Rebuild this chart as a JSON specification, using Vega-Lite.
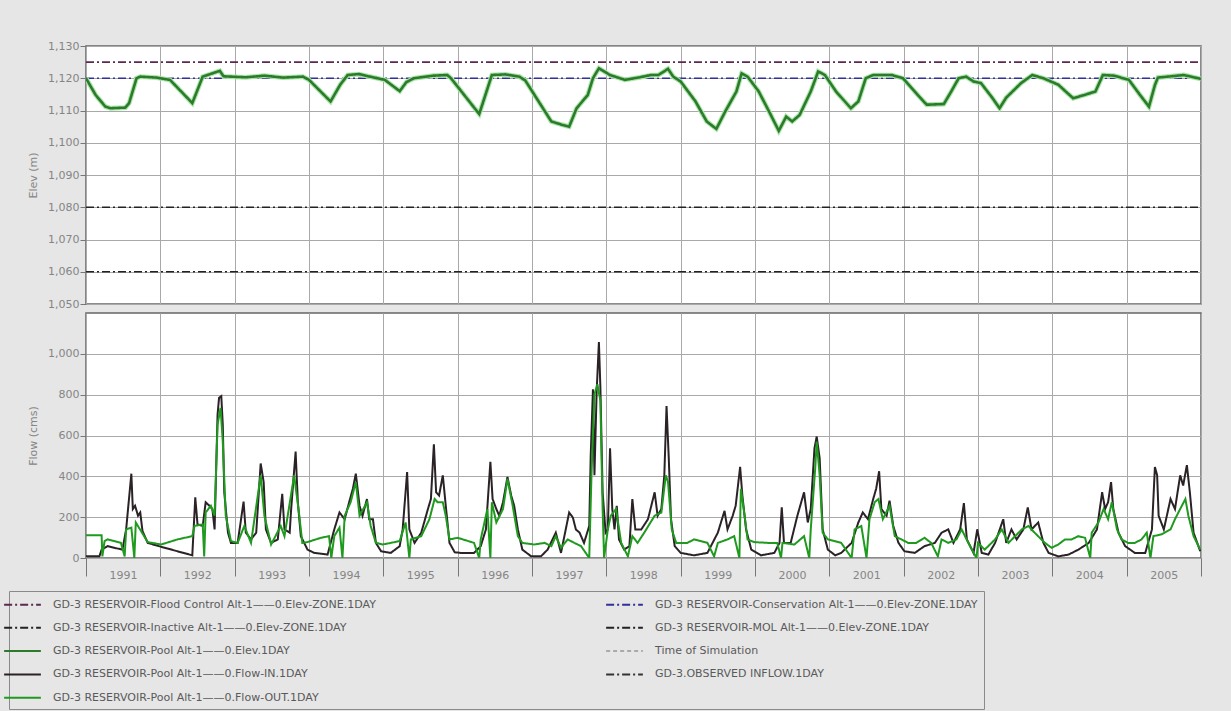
{
  "$schema": "https://vega.github.io/schema/vega-lite/v6.json",
  "background": "#e6e6e6",
  "padding": {"left": 8, "top": 39, "right": 25, "bottom": 2},
  "bounds": "flush",
  "spacing": 9,
  "datasets": {
    "zones": [
      {"t": 1991, "v": 1125, "s": "GD-3 RESERVOIR-Flood Control Alt-1——0.Elev-ZONE.1DAY"},
      {"t": 2006, "v": 1125, "s": "GD-3 RESERVOIR-Flood Control Alt-1——0.Elev-ZONE.1DAY"},
      {"t": 1991, "v": 1120, "s": "GD-3 RESERVOIR-Conservation Alt-1——0.Elev-ZONE.1DAY"},
      {"t": 2006, "v": 1120, "s": "GD-3 RESERVOIR-Conservation Alt-1——0.Elev-ZONE.1DAY"},
      {"t": 1991, "v": 1060, "s": "GD-3 RESERVOIR-Inactive Alt-1——0.Elev-ZONE.1DAY"},
      {"t": 2006, "v": 1060, "s": "GD-3 RESERVOIR-Inactive Alt-1——0.Elev-ZONE.1DAY"},
      {"t": 1991, "v": 1080, "s": "GD-3 RESERVOIR-MOL Alt-1——0.Elev-ZONE.1DAY"},
      {"t": 2006, "v": 1080, "s": "GD-3 RESERVOIR-MOL Alt-1——0.Elev-ZONE.1DAY"}
    ],
    "elev": [
      {"t":1991.00,"v":1120},{"t":1991.13,"v":1114.8},{"t":1991.26,"v":1111.2},{"t":1991.33,"v":1110.7},{"t":1991.53,"v":1110.9},{"t":1991.58,"v":1112.3},{"t":1991.68,"v":1120},{"t":1991.73,"v":1120.5},{"t":1991.95,"v":1120.2},
      {"t":1992.13,"v":1119.5},{"t":1992.43,"v":1112.3},{"t":1992.57,"v":1120.5},{"t":1992.80,"v":1122.3},{"t":1992.85,"v":1120.6},
      {"t":1993.15,"v":1120.3},{"t":1993.40,"v":1120.8},{"t":1993.65,"v":1120.2},{"t":1993.92,"v":1120.5},
      {"t":1994.00,"v":1119.5},{"t":1994.29,"v":1112.8},{"t":1994.42,"v":1118},{"t":1994.52,"v":1121},{"t":1994.67,"v":1121.3},{"t":1994.82,"v":1120.5},
      {"t":1995.02,"v":1119.5},{"t":1995.22,"v":1116},{"t":1995.31,"v":1118.8},{"t":1995.41,"v":1120},{"t":1995.67,"v":1120.8},{"t":1995.86,"v":1121},{"t":1995.91,"v":1120},
      {"t":1996.29,"v":1108.9},{"t":1996.46,"v":1121},{"t":1996.64,"v":1121.2},{"t":1996.83,"v":1120.5},{"t":1996.91,"v":1119.3},
      {"t":1997.26,"v":1106.6},{"t":1997.40,"v":1105.6},{"t":1997.50,"v":1105},{"t":1997.60,"v":1110.7},{"t":1997.75,"v":1114.8},{"t":1997.82,"v":1120},{"t":1997.90,"v":1123.1},{"t":1997.97,"v":1122.1},
      {"t":1998.05,"v":1121},{"t":1998.25,"v":1119.5},{"t":1998.45,"v":1120.3},{"t":1998.60,"v":1121},{"t":1998.70,"v":1121},{"t":1998.83,"v":1122.9},{"t":1998.90,"v":1120.5},
      {"t":1999.00,"v":1119},{"t":1999.20,"v":1112.8},{"t":1999.35,"v":1106.6},{"t":1999.48,"v":1104.3},{"t":1999.60,"v":1109.7},{"t":1999.75,"v":1115.9},{"t":1999.82,"v":1121.5},{"t":1999.90,"v":1120.5},
      {"t":2000.05,"v":1115.9},{"t":2000.20,"v":1109.2},{"t":2000.32,"v":1103.7},{"t":2000.42,"v":1108.1},{"t":2000.50,"v":1106.6},{"t":2000.60,"v":1108.6},{"t":2000.75,"v":1115.9},{"t":2000.85,"v":1122.1},{"t":2000.94,"v":1121},
      {"t":2001.09,"v":1115.9},{"t":2001.29,"v":1110.7},{"t":2001.39,"v":1112.8},{"t":2001.49,"v":1120},{"t":2001.59,"v":1121},{"t":2001.84,"v":1121},{"t":2001.99,"v":1120},
      {"t":2002.19,"v":1114.8},{"t":2002.31,"v":1111.8},{"t":2002.54,"v":1112},{"t":2002.64,"v":1115.9},{"t":2002.74,"v":1120},{"t":2002.84,"v":1120.5},{"t":2002.94,"v":1119},
      {"t":2003.04,"v":1118.5},{"t":2003.19,"v":1114},{"t":2003.29,"v":1110.7},{"t":2003.38,"v":1114},{"t":2003.58,"v":1118.5},{"t":2003.73,"v":1121},{"t":2003.88,"v":1120},
      {"t":2004.08,"v":1118},{"t":2004.28,"v":1113.8},{"t":2004.43,"v":1114.8},{"t":2004.58,"v":1115.9},{"t":2004.68,"v":1121},{"t":2004.83,"v":1120.8},
      {"t":2005.03,"v":1119.5},{"t":2005.18,"v":1114.8},{"t":2005.30,"v":1111.2},{"t":2005.38,"v":1117.9},{"t":2005.42,"v":1120.2},{"t":2005.77,"v":1121},{"t":2005.92,"v":1120.2},{"t":2006.00,"v":1119.8}
    ],
    "inflow": [
      {"t":1991.00,"v":8},{"t":1991.18,"v":8},{"t":1991.21,"v":41},{"t":1991.29,"v":58},{"t":1991.38,"v":50},{"t":1991.49,"v":41},{"t":1991.54,"v":140},{"t":1991.61,"v":413},{"t":1991.63,"v":240},{"t":1991.66,"v":256},{"t":1991.70,"v":207},{"t":1991.73,"v":223},{"t":1991.76,"v":132},{"t":1991.83,"v":74},
      {"t":1992.01,"v":55},{"t":1992.23,"v":33},{"t":1992.43,"v":13},{"t":1992.47,"v":297},{"t":1992.50,"v":165},{"t":1992.57,"v":157},{"t":1992.61,"v":273},{"t":1992.66,"v":256},{"t":1992.70,"v":240},{"t":1992.73,"v":140},{"t":1992.77,"v":703},{"t":1992.79,"v":785},{"t":1992.82,"v":793},{"t":1992.84,"v":653},{"t":1992.86,"v":322},{"t":1992.91,"v":124},{"t":1992.95,"v":74},
      {"t":1993.04,"v":74},{"t":1993.12,"v":276},{"t":1993.15,"v":124},{"t":1993.22,"v":91},{"t":1993.29,"v":124},{"t":1993.35,"v":463},{"t":1993.39,"v":372},{"t":1993.42,"v":140},{"t":1993.49,"v":74},{"t":1993.58,"v":91},{"t":1993.64,"v":314},{"t":1993.67,"v":140},{"t":1993.74,"v":124},{"t":1993.76,"v":240},{"t":1993.82,"v":521},{"t":1993.85,"v":273},{"t":1993.89,"v":107},{"t":1993.98,"v":41},
      {"t":1994.07,"v":25},{"t":1994.25,"v":17},{"t":1994.34,"v":140},{"t":1994.41,"v":223},{"t":1994.48,"v":190},{"t":1994.54,"v":273},{"t":1994.59,"v":339},{"t":1994.63,"v":413},{"t":1994.68,"v":256},{"t":1994.72,"v":207},{"t":1994.78,"v":289},{"t":1994.81,"v":190},{"t":1994.86,"v":190},{"t":1994.90,"v":74},{"t":1994.97,"v":33},
      {"t":1995.10,"v":25},{"t":1995.22,"v":58},{"t":1995.26,"v":140},{"t":1995.32,"v":421},{"t":1995.35,"v":140},{"t":1995.42,"v":74},{"t":1995.51,"v":124},{"t":1995.60,"v":240},{"t":1995.64,"v":289},{"t":1995.68,"v":557},{"t":1995.71,"v":322},{"t":1995.75,"v":306},{"t":1995.80,"v":405},{"t":1995.84,"v":256},{"t":1995.89,"v":74},{"t":1995.96,"v":28},
      {"t":1996.04,"v":25},{"t":1996.22,"v":25},{"t":1996.31,"v":58},{"t":1996.38,"v":140},{"t":1996.44,"v":471},{"t":1996.47,"v":289},{"t":1996.52,"v":240},{"t":1996.56,"v":207},{"t":1996.61,"v":273},{"t":1996.67,"v":397},{"t":1996.72,"v":306},{"t":1996.76,"v":256},{"t":1996.81,"v":140},{"t":1996.87,"v":41},{"t":1996.99,"v":8},
      {"t":1997.12,"v":8},{"t":1997.21,"v":41},{"t":1997.32,"v":124},{"t":1997.39,"v":25},{"t":1997.50,"v":223},{"t":1997.55,"v":198},{"t":1997.59,"v":140},{"t":1997.64,"v":124},{"t":1997.70,"v":74},{"t":1997.77,"v":157},{"t":1997.79,"v":504},{"t":1997.82,"v":826},{"t":1997.84,"v":405},{"t":1997.87,"v":818},{"t":1997.90,"v":1058},{"t":1997.92,"v":835},{"t":1997.95,"v":322},{"t":1997.99,"v":124},
      {"t":1998.02,"v":140},{"t":1998.05,"v":537},{"t":1998.08,"v":240},{"t":1998.11,"v":140},{"t":1998.14,"v":256},{"t":1998.17,"v":91},{"t":1998.24,"v":41},{"t":1998.31,"v":58},{"t":1998.35,"v":289},{"t":1998.39,"v":140},{"t":1998.47,"v":140},{"t":1998.56,"v":190},{"t":1998.65,"v":322},{"t":1998.69,"v":207},{"t":1998.74,"v":240},{"t":1998.78,"v":405},{"t":1998.81,"v":744},{"t":1998.84,"v":488},{"t":1998.87,"v":190},{"t":1998.92,"v":58},
      {"t":1999.00,"v":25},{"t":1999.18,"v":13},{"t":1999.36,"v":25},{"t":1999.50,"v":124},{"t":1999.59,"v":231},{"t":1999.63,"v":140},{"t":1999.70,"v":207},{"t":1999.74,"v":256},{"t":1999.80,"v":446},{"t":1999.83,"v":306},{"t":1999.88,"v":140},{"t":1999.95,"v":41},
      {"t":2000.08,"v":13},{"t":2000.26,"v":25},{"t":2000.33,"v":74},{"t":2000.36,"v":248},{"t":2000.39,"v":74},{"t":2000.48,"v":74},{"t":2000.57,"v":207},{"t":2000.66,"v":322},{"t":2000.71,"v":174},{"t":2000.75,"v":240},{"t":2000.80,"v":537},{"t":2000.83,"v":595},{"t":2000.87,"v":488},{"t":2000.91,"v":140},{"t":2000.98,"v":41},
      {"t":2001.08,"v":13},{"t":2001.16,"v":25},{"t":2001.30,"v":74},{"t":2001.39,"v":174},{"t":2001.45,"v":223},{"t":2001.52,"v":190},{"t":2001.59,"v":289},{"t":2001.63,"v":339},{"t":2001.67,"v":425},{"t":2001.70,"v":240},{"t":2001.77,"v":207},{"t":2001.81,"v":281},{"t":2001.86,"v":157},{"t":2001.93,"v":74},
      {"t":2002.01,"v":33},{"t":2002.15,"v":25},{"t":2002.28,"v":58},{"t":2002.42,"v":74},{"t":2002.51,"v":124},{"t":2002.60,"v":140},{"t":2002.67,"v":74},{"t":2002.76,"v":140},{"t":2002.81,"v":269},{"t":2002.85,"v":91},{"t":2002.94,"v":25},{"t":2002.99,"v":140},
      {"t":2003.05,"v":25},{"t":2003.14,"v":17},{"t":2003.23,"v":74},{"t":2003.34,"v":190},{"t":2003.38,"v":74},{"t":2003.45,"v":140},{"t":2003.52,"v":91},{"t":2003.61,"v":140},{"t":2003.67,"v":248},{"t":2003.72,"v":140},{"t":2003.81,"v":174},{"t":2003.88,"v":74},{"t":2003.95,"v":25},
      {"t":2004.08,"v":8},{"t":2004.22,"v":17},{"t":2004.35,"v":41},{"t":2004.49,"v":74},{"t":2004.60,"v":140},{"t":2004.67,"v":322},{"t":2004.71,"v":240},{"t":2004.75,"v":273},{"t":2004.79,"v":372},{"t":2004.82,"v":240},{"t":2004.89,"v":124},{"t":2004.98,"v":58},
      {"t":2005.11,"v":25},{"t":2005.25,"v":25},{"t":2005.34,"v":140},{"t":2005.38,"v":446},{"t":2005.41,"v":405},{"t":2005.43,"v":207},{"t":2005.50,"v":140},{"t":2005.59,"v":289},{"t":2005.65,"v":240},{"t":2005.72,"v":405},{"t":2005.76,"v":355},{"t":2005.81,"v":455},{"t":2005.85,"v":322},{"t":2005.90,"v":124},{"t":2005.99,"v":33}
    ],
    "outflow": [
      {"t":1991.00,"v":111},{"t":1991.21,"v":111},{"t":1991.22,"v":8},{"t":1991.25,"v":83},{"t":1991.29,"v":91},{"t":1991.38,"v":83},{"t":1991.47,"v":74},{"t":1991.52,"v":8},{"t":1991.54,"v":140},{"t":1991.61,"v":149},{"t":1991.65,"v":0},{"t":1991.67,"v":174},{"t":1991.74,"v":132},{"t":1991.83,"v":78},
      {"t":1992.01,"v":66},{"t":1992.23,"v":91},{"t":1992.43,"v":107},{"t":1992.46,"v":157},{"t":1992.57,"v":165},{"t":1992.59,"v":8},{"t":1992.61,"v":223},{"t":1992.68,"v":256},{"t":1992.73,"v":207},{"t":1992.77,"v":653},{"t":1992.81,"v":735},{"t":1992.84,"v":570},{"t":1992.88,"v":207},{"t":1992.95,"v":83},
      {"t":1993.04,"v":74},{"t":1993.13,"v":157},{"t":1993.22,"v":74},{"t":1993.35,"v":405},{"t":1993.40,"v":207},{"t":1993.49,"v":66},{"t":1993.62,"v":157},{"t":1993.67,"v":107},{"t":1993.80,"v":405},{"t":1993.87,"v":207},{"t":1993.91,"v":74},{"t":1993.98,"v":78},
      {"t":1994.16,"v":99},{"t":1994.27,"v":107},{"t":1994.30,"v":0},{"t":1994.34,"v":107},{"t":1994.41,"v":149},{"t":1994.45,"v":0},{"t":1994.48,"v":207},{"t":1994.56,"v":273},{"t":1994.63,"v":372},{"t":1994.68,"v":207},{"t":1994.78,"v":273},{"t":1994.83,"v":157},{"t":1994.90,"v":74},{"t":1994.99,"v":66},
      {"t":1995.10,"v":74},{"t":1995.22,"v":83},{"t":1995.30,"v":174},{"t":1995.35,"v":0},{"t":1995.37,"v":91},{"t":1995.51,"v":107},{"t":1995.62,"v":190},{"t":1995.69,"v":289},{"t":1995.73,"v":273},{"t":1995.80,"v":273},{"t":1995.84,"v":207},{"t":1995.89,"v":91},{"t":1996.00,"v":99},
      {"t":1996.22,"v":74},{"t":1996.29,"v":0},{"t":1996.31,"v":91},{"t":1996.40,"v":240},{"t":1996.44,"v":0},{"t":1996.46,"v":273},{"t":1996.52,"v":174},{"t":1996.61,"v":240},{"t":1996.67,"v":388},{"t":1996.74,"v":256},{"t":1996.81,"v":107},{"t":1996.87,"v":74},
      {"t":1997.03,"v":66},{"t":1997.17,"v":74},{"t":1997.26,"v":58},{"t":1997.32,"v":107},{"t":1997.39,"v":50},{"t":1997.48,"v":91},{"t":1997.57,"v":74},{"t":1997.66,"v":58},{"t":1997.77,"v":0},{"t":1997.80,"v":405},{"t":1997.84,"v":802},{"t":1997.88,"v":851},{"t":1997.92,"v":769},{"t":1997.95,"v":240},{"t":1997.97,"v":0},
      {"t":1998.02,"v":140},{"t":1998.06,"v":207},{"t":1998.13,"v":240},{"t":1998.20,"v":74},{"t":1998.29,"v":8},{"t":1998.35,"v":107},{"t":1998.42,"v":74},{"t":1998.51,"v":124},{"t":1998.65,"v":207},{"t":1998.74,"v":223},{"t":1998.80,"v":405},{"t":1998.83,"v":372},{"t":1998.88,"v":140},{"t":1998.94,"v":74},
      {"t":1999.09,"v":74},{"t":1999.18,"v":91},{"t":1999.36,"v":74},{"t":1999.45,"v":8},{"t":1999.50,"v":74},{"t":1999.63,"v":91},{"t":1999.72,"v":107},{"t":1999.79,"v":0},{"t":1999.81,"v":339},{"t":1999.86,"v":207},{"t":1999.90,"v":91},{"t":1999.99,"v":78},
      {"t":2000.17,"v":74},{"t":2000.30,"v":74},{"t":2000.35,"v":0},{"t":2000.37,"v":74},{"t":2000.53,"v":66},{"t":2000.66,"v":107},{"t":2000.73,"v":0},{"t":2000.75,"v":140},{"t":2000.81,"v":438},{"t":2000.83,"v":570},{"t":2000.87,"v":405},{"t":2000.91,"v":124},{"t":2000.98,"v":91},
      {"t":2001.16,"v":74},{"t":2001.30,"v":0},{"t":2001.34,"v":140},{"t":2001.43,"v":157},{"t":2001.50,"v":0},{"t":2001.54,"v":190},{"t":2001.61,"v":273},{"t":2001.66,"v":289},{"t":2001.72,"v":190},{"t":2001.81,"v":256},{"t":2001.88,"v":107},{"t":2001.97,"v":91},
      {"t":2002.06,"v":74},{"t":2002.17,"v":74},{"t":2002.28,"v":99},{"t":2002.37,"v":74},{"t":2002.46,"v":8},{"t":2002.51,"v":91},{"t":2002.60,"v":74},{"t":2002.71,"v":91},{"t":2002.78,"v":140},{"t":2002.87,"v":74},{"t":2002.98,"v":0},
      {"t":2003.00,"v":74},{"t":2003.09,"v":41},{"t":2003.23,"v":91},{"t":2003.32,"v":140},{"t":2003.41,"v":74},{"t":2003.50,"v":107},{"t":2003.59,"v":140},{"t":2003.68,"v":157},{"t":2003.74,"v":132},{"t":2003.83,"v":99},{"t":2003.90,"v":74},{"t":2003.99,"v":50},
      {"t":2004.08,"v":66},{"t":2004.17,"v":91},{"t":2004.26,"v":91},{"t":2004.35,"v":107},{"t":2004.44,"v":99},{"t":2004.51,"v":0},{"t":2004.53,"v":124},{"t":2004.62,"v":174},{"t":2004.69,"v":240},{"t":2004.75,"v":190},{"t":2004.80,"v":273},{"t":2004.87,"v":140},{"t":2004.93,"v":91},
      {"t":2005.02,"v":74},{"t":2005.11,"v":74},{"t":2005.20,"v":91},{"t":2005.27,"v":124},{"t":2005.32,"v":0},{"t":2005.36,"v":107},{"t":2005.47,"v":116},{"t":2005.59,"v":140},{"t":2005.65,"v":190},{"t":2005.72,"v":240},{"t":2005.79,"v":289},{"t":2005.83,"v":207},{"t":2005.90,"v":107},{"t":2005.99,"v":41}
    ]
  },
  "vconcat": [
    {
      "width": 1115,
      "height": 258,
      "encoding": {
        "x": {"field": "t", "type": "quantitative", "scale": {"domain": [1991, 2006], "nice": false, "zero": false},
              "axis": {"values": [1991,1992,1993,1994,1995,1996,1997,1998,1999,2000,2001,2002,2003,2004,2005,2006], "labels": false, "ticks": false, "domain": false, "grid": true, "title": null}},
        "y": {"field": "v", "type": "quantitative", "scale": {"domain": [1050, 1130], "nice": false, "zero": false},
              "axis": {"values": [1050,1060,1070,1080,1090,1100,1110,1120,1130], "format": ",d", "title": "Elev (m)", "grid": true, "tickSize": 6, "labelPadding": 1, "titlePadding": 9, "labelOverlap": false}}
      },
      "layer": [
        {
          "data": {"name": "zones"},
          "mark": {"type": "line", "strokeWidth": 1.6, "clip": true},
          "encoding": {
            "color": {"field": "s", "type": "nominal",
              "scale": {"domain": ["GD-3 RESERVOIR-Flood Control Alt-1——0.Elev-ZONE.1DAY","GD-3 RESERVOIR-Inactive Alt-1——0.Elev-ZONE.1DAY","GD-3 RESERVOIR-Pool Alt-1——0.Elev.1DAY","GD-3 RESERVOIR-Pool Alt-1——0.Flow-IN.1DAY","GD-3 RESERVOIR-Pool Alt-1——0.Flow-OUT.1DAY","GD-3 RESERVOIR-Conservation Alt-1——0.Elev-ZONE.1DAY","GD-3 RESERVOIR-MOL Alt-1——0.Elev-ZONE.1DAY","Time of Simulation","GD-3.OBSERVED INFLOW.1DAY"],
                        "range": ["#5a2a50","#222222","#2d7a2d","#2a2226","#1f9a1f","#30309a","#222222","#aaaaaa","#333333"]},
              "legend": {"title": null, "orient": "none", "legendX": -77, "legendY": 545, "columns": 2}},
            "strokeDash": {"field": "s", "type": "nominal",
              "scale": {"domain": ["GD-3 RESERVOIR-Flood Control Alt-1——0.Elev-ZONE.1DAY","GD-3 RESERVOIR-Inactive Alt-1——0.Elev-ZONE.1DAY","GD-3 RESERVOIR-Pool Alt-1——0.Elev.1DAY","GD-3 RESERVOIR-Pool Alt-1——0.Flow-IN.1DAY","GD-3 RESERVOIR-Pool Alt-1——0.Flow-OUT.1DAY","GD-3 RESERVOIR-Conservation Alt-1——0.Elev-ZONE.1DAY","GD-3 RESERVOIR-MOL Alt-1——0.Elev-ZONE.1DAY","Time of Simulation","GD-3.OBSERVED INFLOW.1DAY"],
                        "range": [[8,3,2,3],[8,3,2,3],[1,0],[1,0],[1,0],[8,3,2,3],[8,3,2,3],[4,3],[8,3,2,3]]},
              "legend": {"title": null, "orient": "none", "legendX": -77, "legendY": 545, "columns": 2}}
          }
        },
        {
          "data": {"name": "elev"},
          "mark": {"type": "line", "strokeWidth": 4.8, "color": "#a8e6a8", "clip": true}
        },
        {
          "data": {"name": "elev"},
          "mark": {"type": "line", "strokeWidth": 2.6, "clip": true},
          "encoding": {
            "color": {"datum": "GD-3 RESERVOIR-Pool Alt-1——0.Elev.1DAY", "type": "nominal", "legend": {"title": null, "orient": "none", "legendX": -77, "legendY": 545, "columns": 2}},
            "strokeDash": {"datum": "GD-3 RESERVOIR-Pool Alt-1——0.Elev.1DAY", "type": "nominal", "legend": {"title": null, "orient": "none", "legendX": -77, "legendY": 545, "columns": 2}}
          }
        }
      ]
    },
    {
      "width": 1115,
      "height": 245,
      "encoding": {
        "x": {"field": "t", "type": "quantitative", "scale": {"domain": [1991, 2006], "nice": false, "zero": false},
              "axis": {"values": [1991,1992,1993,1994,1995,1996,1997,1998,1999,2000,2001,2002,2003,2004,2005,2006], "format": "d", "labelExpr": "datum.value > 2005 ? '' : datum.label", "grid": true, "title": null, "tickSize": 18, "labelOffset": 37, "labelPadding": -7, "labelFlush": false, "labelAlign": "center", "domain": false, "labelOverlap": false}},
        "y": {"field": "v", "type": "quantitative", "scale": {"domain": [0, 1200], "nice": false, "zero": false},
              "axis": {"values": [0,200,400,600,800,1000], "format": ",d", "title": "Flow (cms)", "grid": true, "tickSize": 6, "labelPadding": 1, "titlePadding": 9, "labelOverlap": false}}
      },
      "layer": [
        {
          "data": {"name": "inflow"},
          "mark": {"type": "line", "strokeWidth": 2, "clip": true},
          "encoding": {
            "color": {"datum": "GD-3 RESERVOIR-Pool Alt-1——0.Flow-IN.1DAY", "type": "nominal", "legend": {"title": null, "orient": "none", "legendX": -77, "legendY": 545, "columns": 2}},
            "strokeDash": {"datum": "GD-3 RESERVOIR-Pool Alt-1——0.Flow-IN.1DAY", "type": "nominal", "legend": {"title": null, "orient": "none", "legendX": -77, "legendY": 545, "columns": 2}}
          }
        },
        {
          "data": {"name": "outflow"},
          "mark": {"type": "line", "strokeWidth": 2, "clip": true},
          "encoding": {
            "color": {"datum": "GD-3 RESERVOIR-Pool Alt-1——0.Flow-OUT.1DAY", "type": "nominal", "legend": {"title": null, "orient": "none", "legendX": -77, "legendY": 545, "columns": 2}},
            "strokeDash": {"datum": "GD-3 RESERVOIR-Pool Alt-1——0.Flow-OUT.1DAY", "type": "nominal", "legend": {"title": null, "orient": "none", "legendX": -77, "legendY": 545, "columns": 2}}
          }
        }
      ]
    }
  ],
  "config": {
    "font": "DejaVu Sans",
    "view": {"fill": "white", "stroke": "#666666", "strokeWidth": 1.5},
    "axis": {"labelFont": "DejaVu Sans", "labelFontSize": 11, "labelColor": "#858585", "titleFont": "DejaVu Sans", "titleFontSize": 11, "titleFontWeight": "normal", "titleColor": "#858585", "gridColor": "#a9a9a9", "gridOpacity": 1, "gridWidth": 1, "tickColor": "#777777", "domain": false, "labelOverlap": false},
    "legend": {"labelFont": "DejaVu Sans", "labelFontSize": 11, "labelColor": "#5a5a5a", "labelLimit": 700, "symbolType": "M-3,0H3", "symbolSize": 150, "symbolStrokeWidth": 2, "labelOffset": 23, "rowPadding": 10.3, "columnPadding": 226, "padding": 6, "strokeColor": "#8a8a8a", "fillColor": "#e6e6e6", "columns": 2}
  }
}
